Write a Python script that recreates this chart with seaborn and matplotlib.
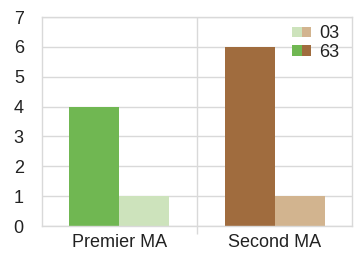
import matplotlib
matplotlib.use("Agg")
import matplotlib.pyplot as plt
from matplotlib.patches import Patch
from matplotlib.legend_handler import HandlerTuple
import seaborn as sns
import pandas as pd

categories = ["Premier MA", "Second MA"]
series = ["63", "03"]
values_63 = [4, 6]
values_03 = [1, 1]
yticks = [0, 1, 2, 3, 4, 5, 6, 7]

colors_63 = ["#70b752", "#a06c3e"]
colors_03 = ["#cde3bc", "#d2b48f"]

df = pd.DataFrame({
    "cat": categories * 2,
    "series": ["63"] * 2 + ["03"] * 2,
    "value": values_63 + values_03,
})

sns.set_theme(style="white")
plt.rcParams["font.family"] = ["Liberation Sans", "DejaVu Sans"]

fig = plt.figure(figsize=(3.55, 2.54), dpi=100)
ax = fig.add_axes([0.118, 0.110, 0.874, 0.823])

sns.barplot(data=df, x="cat", y="value", hue="series", hue_order=series,
            order=categories, width=0.645, ax=ax, legend=False,
            saturation=1, linewidth=0, errorbar=None)

bars = ax.patches
cols = colors_63 + colors_03
for p, c in zip(bars, cols):
    p.set_facecolor(c)
    p.set_edgecolor("none")

ax.set_xlim(-0.5, 1.5)
ax.set_ylim(0, 7)
ax.set_yticks(yticks)
ax.set_xlabel("")
ax.set_ylabel("")
grid_c = "#d9d9d9"
ax.yaxis.grid(True, color=grid_c, linewidth=1)
ax.set_axisbelow(True)
ax.set_xticks([0.5], minor=True)
ax.xaxis.grid(True, which="minor", color=grid_c, linewidth=1)
ax.tick_params(axis="x", which="major", length=0, pad=6, labelsize=13, labelcolor="#222222")
ax.tick_params(axis="x", which="minor", length=6, width=1, color=grid_c, direction="out", bottom=True)
ax.tick_params(axis="y", length=0, pad=13, labelsize=13, labelcolor="#222222")
for s in ax.spines.values():
    s.set_color(grid_c)
    s.set_linewidth(1)

def sw(c):
    return Patch(facecolor=c, edgecolor="none", linewidth=0)

h03 = (sw(colors_03[0]), sw(colors_03[1]))
h63 = (sw(colors_63[0]), sw(colors_63[1]))
ax.legend([h03, h63], ["03", "63"], handler_map={tuple: HandlerTuple(ndivide=None, pad=0)},
          loc="upper right", bbox_to_anchor=(0.96, 0.96), frameon=False, fontsize=13,
          borderpad=0, borderaxespad=0,
          handlelength=1.1, handleheight=0.55, handletextpad=0.45, labelspacing=0.1,
          labelcolor="#222222")

fig.savefig("out.png", dpi=100)
